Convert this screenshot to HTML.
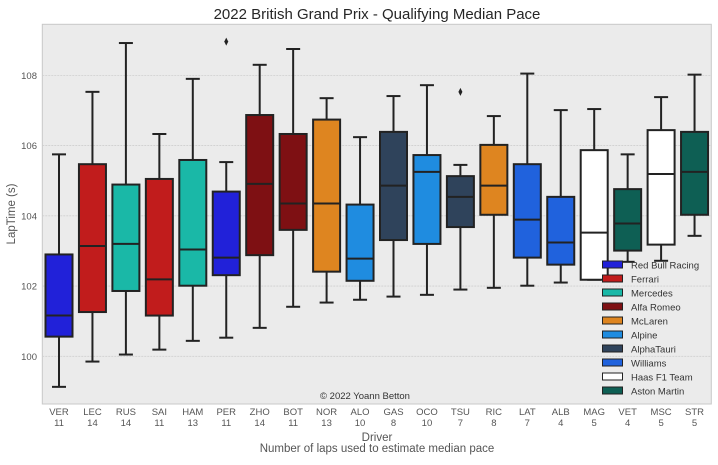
<!DOCTYPE html>
<html><head><meta charset="utf-8"><style>
body{margin:0;background:#fff;}
svg text{font-family:"Liberation Sans",sans-serif;}
</style></head><body>
<svg id="chart" width="718" height="460">
<rect x="42.3" y="24.3" width="669" height="379.7" fill="#ebebeb" stroke="#c8c8c8" stroke-width="1"/>
<text x="377" y="19" font-size="15" text-anchor="middle" fill="#262626">2022 British Grand Prix - Qualifying Median Pace</text>
<text x="15" y="214" font-size="11.5" text-anchor="middle" fill="#555" transform="rotate(-90 15 214)">LapTime (s)</text>
<text x="377" y="441" font-size="11.5" text-anchor="middle" fill="#555">Driver</text>
<text x="377" y="452" font-size="11.5" text-anchor="middle" fill="#555">Number of laps used to estimate median pace</text>
<text x="365" y="399" font-size="9.5" text-anchor="middle" fill="#333">© 2022 Yoann Betton</text>
<g id="grid"></g><g id="boxes"></g><g id="legend"></g>
</svg>
<script>
const drivers=["VER","LEC","RUS","SAI","HAM","PER","ZHO","BOT","NOR","ALO","GAS","OCO","TSU","RIC","LAT","ALB","MAG","VET","MSC","STR"];
const laps=[11,14,14,11,13,11,14,11,13,10,8,10,7,8,7,4,5,4,5,5];
const teamOf=["Red Bull Racing","Ferrari","Mercedes","Ferrari","Mercedes","Red Bull Racing","Alfa Romeo","Alfa Romeo","McLaren","Alpine","AlphaTauri","Alpine","AlphaTauri","McLaren","Williams","Williams","Haas F1 Team","Aston Martin","Haas F1 Team","Aston Martin"];
const whiskLow=[99.13,99.85,100.05,100.19,100.44,100.53,100.81,101.41,101.53,101.61,101.7,101.75,101.9,101.95,102.01,102.1,102.18,102.69,102.72,103.43];
const q1=[100.56,101.26,101.86,101.16,102.01,102.31,102.88,103.6,102.41,102.15,103.31,103.2,103.68,104.03,102.81,102.61,102.18,103.01,103.18,104.03];
const med=[101.16,103.14,103.2,102.19,103.04,102.81,104.91,104.35,104.35,102.78,104.86,105.25,104.54,104.86,103.89,103.24,103.52,103.78,105.19,105.25];
const q3=[102.9,105.47,104.89,105.05,105.59,104.69,106.87,106.33,106.74,104.32,106.39,105.73,105.13,106.02,105.47,104.54,105.87,104.76,106.44,106.39];
const whiskHigh=[105.75,107.53,108.92,106.33,107.9,105.53,108.3,108.75,107.35,106.24,107.41,107.72,105.45,106.84,108.05,107.01,107.04,105.75,107.38,108.02];
const outliers=[[5,108.96],[12,107.53]];
const teams=["Red Bull Racing","Ferrari","Mercedes","Alfa Romeo","McLaren","Alpine","AlphaTauri","Williams","Haas F1 Team","Aston Martin"];
const teamColors=["#2121d9","#c11c1c","#1ab8a7","#7e1013","#de8520","#1f8ce0","#2f435b","#2062dd","#ffffff","#0e5f54"];
const yTicks=[100,102,104,106,108];
const NS="http://www.w3.org/2000/svg";
const y=v=>356.3-(v-100)*35.12;
const x=i=>59+i*33.45;
function mk(t,a,p){const e=document.createElementNS(NS,t);for(const k in a)e.setAttribute(k,a[k]);p.appendChild(e);return e;}
const grid=document.getElementById('grid'),boxes=document.getElementById('boxes'),leg=document.getElementById('legend');
yTicks.forEach(t=>{
 const l=mk('line',{x1:42.3,x2:711.3,y1:y(t),y2:y(t),stroke:'#cfcfcf','stroke-dasharray':'2,1','stroke-width':0.8},grid);
 
 
 const tx=mk('text',{x:37,y:y(t)+3.5,'font-size':9.5,'text-anchor':'end',fill:'#555'},grid);tx.textContent=t;
 
 
});
const S='#222';
drivers.forEach((d,i)=>{
 const cx=x(i),w=27,col=teamColors[teams.indexOf(teamOf[i])];
 const g=mk('g',{},boxes);
 
 
 mk('line',{x1:cx,x2:cx,y1:y(whiskHigh[i]),y2:y(q3[i]),stroke:S,'stroke-width':2},g);
 mk('line',{x1:cx,x2:cx,y1:y(q1[i]),y2:y(whiskLow[i]),stroke:S,'stroke-width':2},g);
 mk('line',{x1:cx-7,x2:cx+7,y1:y(whiskHigh[i]),y2:y(whiskHigh[i]),stroke:S,'stroke-width':2},g);
 mk('line',{x1:cx-7,x2:cx+7,y1:y(whiskLow[i]),y2:y(whiskLow[i]),stroke:S,'stroke-width':2},g);
 mk('rect',{x:cx-w/2,y:y(q3[i]),width:w,height:y(q1[i])-y(q3[i]),fill:col,stroke:S,'stroke-width':2},g);
 mk('line',{x1:cx-w/2,x2:cx+w/2,y1:y(med[i]),y2:y(med[i]),stroke:S,'stroke-width':2},g);
 const t1=mk('text',{x:cx,y:415,'font-size':9.5,'text-anchor':'middle',fill:'#555'},grid);t1.textContent=d;
 
 
 const t2=mk('text',{x:cx,y:426,'font-size':9.5,'text-anchor':'middle',fill:'#555'},grid);t2.textContent=laps[i];
 
 
});
outliers.forEach(o=>{
 const cx=x(o[0]),cy=y(o[1]);
 const p=mk('path',{d:`M${cx} ${cy-4}L${cx+2} ${cy}L${cx} ${cy+4}L${cx-2} ${cy}Z`,fill:S},boxes);
 
 
});
teams.forEach((t,i)=>{
 const yy=261+i*14;
 const g=mk('g',{},leg);
 
 
 mk('rect',{x:602.5,y:yy,width:20,height:7,fill:teamColors[i],stroke:'#222','stroke-width':1},g);
 const tx=mk('text',{x:631,y:yy+7.5,'font-size':9.5,fill:'#333'},g);tx.textContent=t;
});
</script>
</body></html>
